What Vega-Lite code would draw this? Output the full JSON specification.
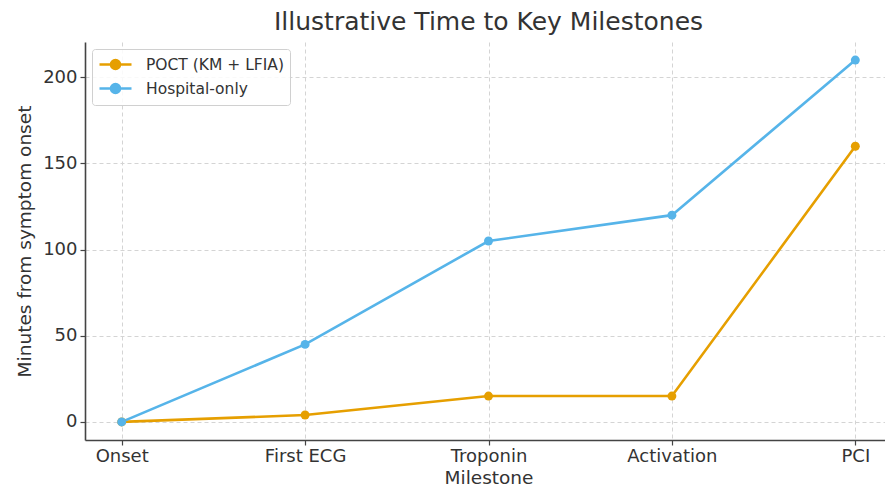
{
  "$schema": "https://vega.github.io/schema/vega-lite/v6.json",
  "autosize": {"type": "none"},
  "width": 807,
  "height": 398,
  "padding": {"left": 85, "top": 42, "right": 0, "bottom": 49},
  "background": "white",
  "config": {
    "view": {"stroke": null},
    "font": "DejaVu Sans",
    "axis": {
      "labelFont": "DejaVu Sans",
      "titleFont": "DejaVu Sans",
      "labelColor": "#333",
      "titleColor": "#333",
      "labelFontSize": 18,
      "titleFontSize": 18.5,
      "titleFontWeight": "normal",
      "domainColor": "#444",
      "domainWidth": 1.6,
      "tickColor": "#444",
      "tickWidth": 1.2,
      "tickSize": 5,
      "gridColor": "#d4d4d4",
      "gridDash": [4, 3],
      "gridWidth": 1
    }
  },
  "title": {
    "text": "Illustrative Time to Key Milestones",
    "font": "DejaVu Sans",
    "fontSize": 25,
    "fontWeight": "normal",
    "color": "#333",
    "anchor": "middle",
    "offset": 7
  },
  "data": {
    "values": [
      {"milestone": "Onset", "pathway": "POCT (KM + LFIA)", "minutes": 0},
      {"milestone": "First ECG", "pathway": "POCT (KM + LFIA)", "minutes": 4},
      {"milestone": "Troponin", "pathway": "POCT (KM + LFIA)", "minutes": 15},
      {"milestone": "Activation", "pathway": "POCT (KM + LFIA)", "minutes": 15},
      {"milestone": "PCI", "pathway": "POCT (KM + LFIA)", "minutes": 160},
      {"milestone": "Onset", "pathway": "Hospital-only", "minutes": 0},
      {"milestone": "First ECG", "pathway": "Hospital-only", "minutes": 45},
      {"milestone": "Troponin", "pathway": "Hospital-only", "minutes": 105},
      {"milestone": "Activation", "pathway": "Hospital-only", "minutes": 120},
      {"milestone": "PCI", "pathway": "Hospital-only", "minutes": 210}
    ]
  },
  "mark": {"type": "line", "strokeWidth": 2.6, "point": {"filled": true, "size": 80, "opacity": 1}},
  "encoding": {
    "x": {
      "field": "milestone",
      "type": "ordinal",
      "sort": ["Onset", "First ECG", "Troponin", "Activation", "PCI"],
      "scale": {"type": "point", "padding": 0.2},
      "axis": {"title": "Milestone", "labelAngle": 0, "grid": true, "labelPadding": 2, "titlePadding": 3}
    },
    "y": {
      "field": "minutes",
      "type": "quantitative",
      "scale": {"domain": [-10.5, 220.5], "nice": false, "zero": false},
      "axis": {"title": "Minutes from symptom onset", "values": [0, 50, 100, 150, 200], "grid": true, "titlePadding": 8, "labelPadding": 3}
    },
    "color": {
      "field": "pathway",
      "type": "nominal",
      "sort": ["POCT (KM + LFIA)", "Hospital-only"],
      "scale": {"domain": ["POCT (KM + LFIA)", "Hospital-only"], "range": ["#E69F00", "#56B4E9"]},
      "legend": {
        "title": null,
        "orient": "top-left",
        "offset": 7,
        "labelFont": "DejaVu Sans",
        "labelFontSize": 15.5,
        "labelColor": "#333",
        "labelOffset": 29,
        "symbolType": "M-1,0H3M0.44,0A0.56,0.56 0 1,0 1.56,0A0.56,0.56 0 1,0 0.44,0",
        "symbolSize": 256,
        "symbolStrokeWidth": 2.6,
        "rowPadding": 3,
        "padding": 6,
        "fillColor": "rgba(255,255,255,0.85)",
        "strokeColor": "#d0d0d0",
        "cornerRadius": 3,
        "encode": {
          "symbols": {"update": {"fill": {"field": "value", "scale": "color"}, "stroke": {"field": "value", "scale": "color"}}}
        }
      }
    }
  }
}
